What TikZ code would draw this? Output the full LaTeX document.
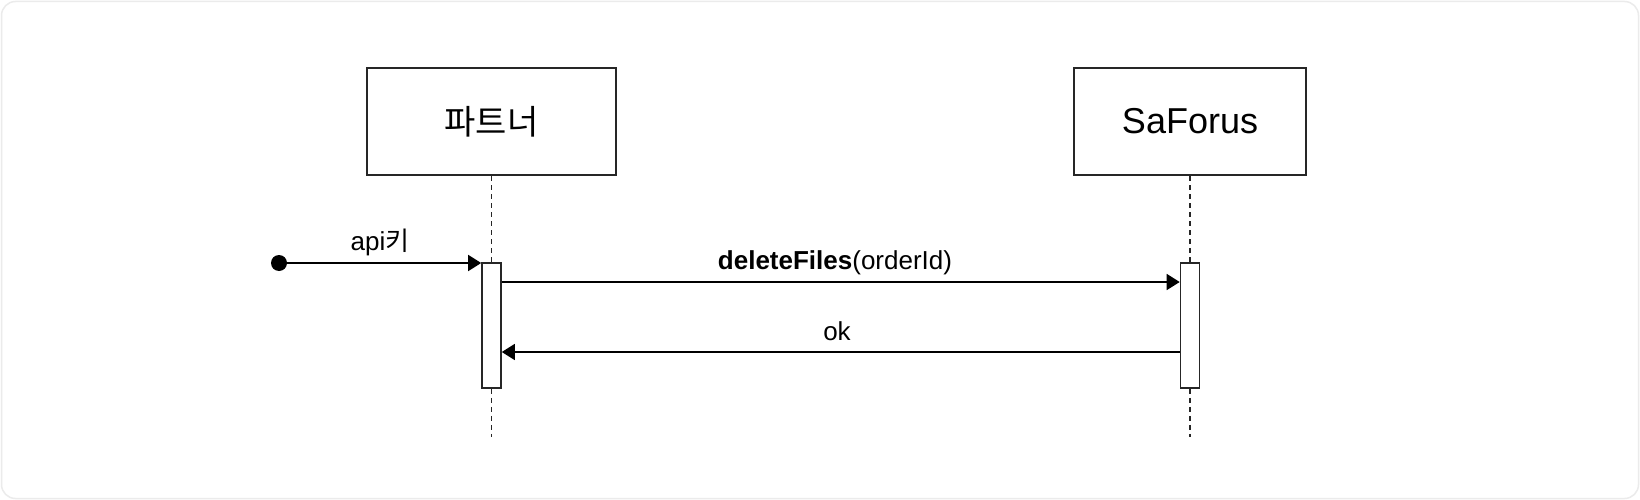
\documentclass[tikz,border=0pt]{standalone}
\usepackage{fontspec}
\setmainfont{Liberation Sans}
\newfontfamily\krfont{Noto Sans CJK KR}
\usetikzlibrary{arrows.meta}
\begin{document}
\begin{tikzpicture}[x=1pt,y=-1pt,
  actor/.style={draw=black!85,line width=2pt,fill=white,inner sep=0pt,minimum height=107pt},
  actbar/.style={draw=black!85,line width=1.6pt,fill=white,inner sep=0pt,minimum width=19pt,minimum height=125pt},
  lifeline/.style={draw=black!85,line width=1.8pt,dash pattern=on 5pt off 4pt},
  msg/.style={draw=black,line width=1.5pt,-{Triangle[length=13pt,width=16pt]}},
  lbl/.style={anchor=base,inner sep=0pt,font=\fontsize{26}{30}\selectfont}]
\useasboundingbox (0,0) rectangle (1640,500);
\draw[draw=black!8,line width=1.5pt,rounded corners=14pt,fill=white] (1.5,1.5) rectangle (1638.5,498.5);

\node[actor,minimum width=249pt] (partner) at (491.5,121.5) {\krfont\fontsize{34}{40}\selectfont 파트너};
\node[actor,minimum width=232pt] (saforus) at (1190,121.5) {\fontsize{36}{42}\selectfont SaForus};

\node[actbar] (act1) at (491.5,325.5) {};
\node[actbar] (act2) at (1190,325.5) {};

\coordinate (end1) at (491.5,437);
\coordinate (end2) at (1190,437);
\draw[lifeline] (partner.south) -- (act1.north);
\draw[lifeline] (act1.south) -- (end1);
\draw[lifeline] (saforus.south) -- (act2.north);
\draw[lifeline] (act2.south) -- (end2);

\coordinate (start) at (279,263);
\fill[black] (start) circle (8pt);
\coordinate (y1) at (0,282);
\coordinate (y2) at (0,352);

\draw[msg] (start) -- (act1.west |- start);
\draw[msg] (act1.east |- y1) -- (act2.west |- y1);
\draw[msg] (act2.west |- y2) -- (act1.east |- y2);

\node[lbl] (l1) at (380,250) {api{\krfont 키}};
\node[lbl] (l2) at (835,269) {\textbf{deleteFiles}(orderId)};
\node[lbl] (l3) at (837,340) {ok};
\end{tikzpicture}
\end{document}
